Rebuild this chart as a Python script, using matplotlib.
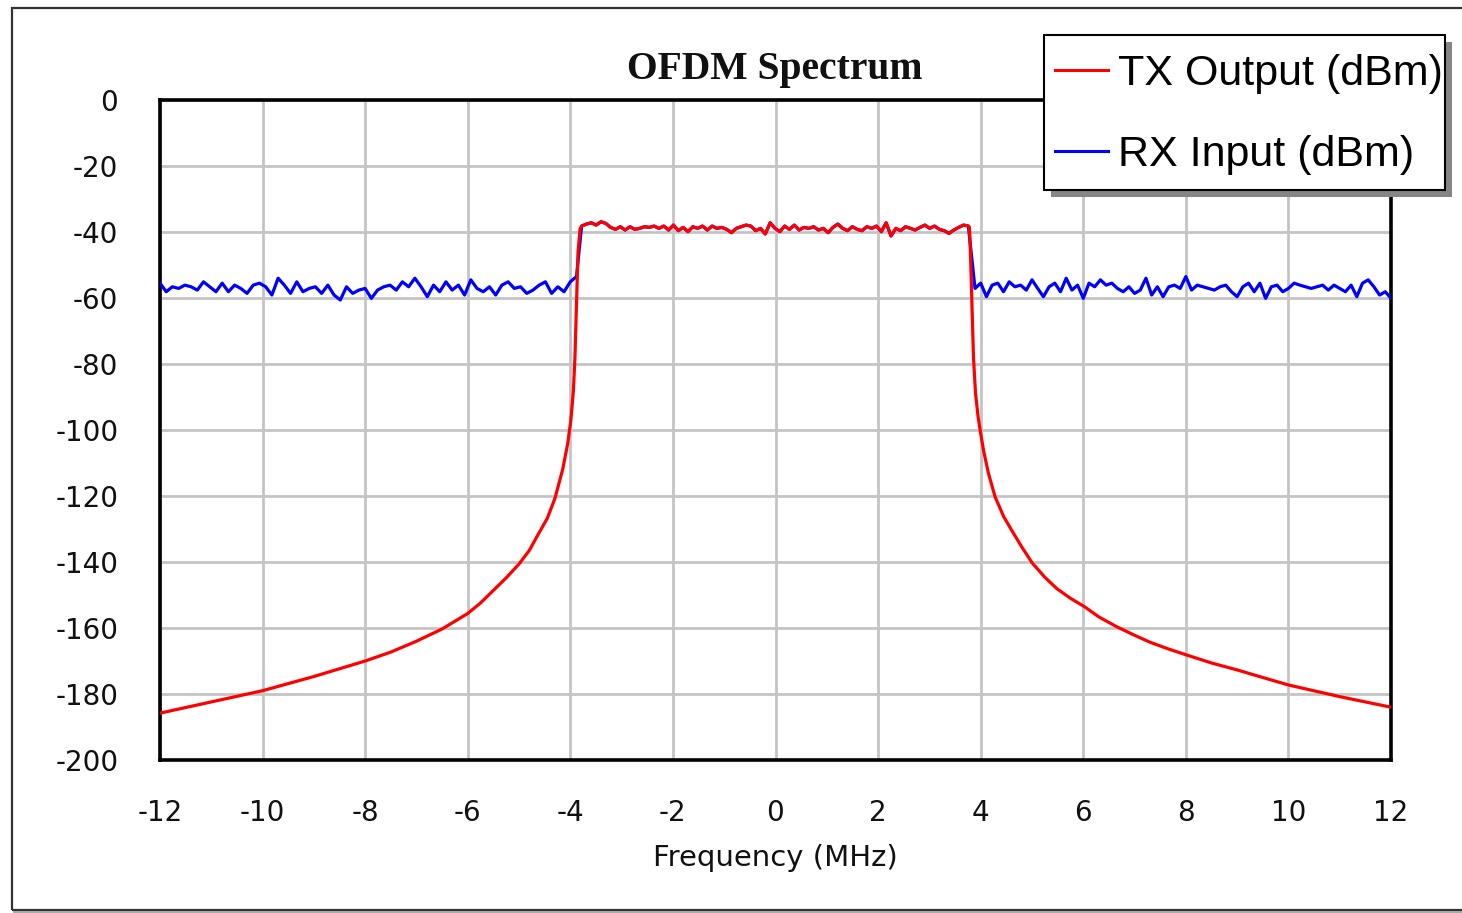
import numpy as np
import matplotlib
matplotlib.use("Agg")
import matplotlib.pyplot as plt
from matplotlib.patches import Rectangle
from matplotlib.lines import Line2D

# ---------------- data ----------------
title = "OFDM Spectrum"
xlabel = "Frequency (MHz)"
series_names = ["TX Output (dBm)", "RX Input (dBm)"]
xticks = [-12, -10, -8, -6, -4, -2, 0, 2, 4, 6, 8, 10, 12]
yticks = [0, -20, -40, -60, -80, -100, -120, -140, -160, -180, -200]

# RX noise floor left of the band (-12 .. -3.88 MHz)
rx_left = [-55.5, -58.1, -56.6, -57.1, -56.1, -56.6, -57.6, -55.1, -56.6, -58.1, -55.5, -58.1,
           -56.1, -57.1, -58.6, -56.1, -55.5, -56.6, -59.1, -54.0, -56.1, -58.6, -55.1, -58.1,
           -57.1, -56.6, -58.6, -56.1, -59.1, -60.6, -56.6, -58.6, -57.6, -57.1, -60.1, -57.6,
           -56.6, -56.1, -57.6, -55.1, -56.6, -54.0, -56.6, -59.6, -56.1, -58.1, -55.1, -57.6,
           -56.1, -59.1, -54.5, -57.1, -58.1, -56.6, -59.1, -56.1, -55.1, -57.1, -56.6, -58.6,
           -57.6, -56.1, -55.1, -58.6, -56.6, -58.1, -55.1, -53.5]
rx_left_span = (-12.0, -3.88)

# RX noise floor right of the band (3.89 .. 12 MHz)
rx_right = [-57.1, -55.5, -59.6, -56.1, -55.5, -58.1, -55.1, -56.6, -56.1, -57.6, -54.5, -57.1,
            -59.6, -56.6, -55.5, -58.1, -54.0, -57.6, -56.1, -60.1, -55.5, -56.6, -54.5, -56.1,
            -55.5, -57.1, -58.1, -56.6, -58.6, -57.6, -54.0, -59.1, -56.6, -59.6, -56.6, -56.1,
            -57.1, -53.5, -57.6, -56.1, -56.6, -57.1, -57.6, -56.6, -56.1, -58.1, -59.6, -56.6,
            -55.5, -58.1, -55.5, -60.1, -56.6, -56.1, -58.1, -57.1, -55.5, -56.1, -56.6, -57.1,
            -56.6, -56.1, -57.6, -56.1, -57.1, -58.1, -56.1, -59.6, -55.5, -54.5, -56.6, -59.1,
            -58.1, -60.1]
rx_right_span = (3.89, 12.0)

# In-band OFDM level (-3.78 .. 3.76 MHz)
tx_inband = [-38.2, -37.6, -37.2, -37.9, -36.9, -37.4, -38.6, -39.2, -38.4, -39.4, -38.4, -39.2,
             -38.9, -38.4, -38.6, -38.2, -38.9, -38.2, -39.4, -37.9, -39.6, -38.6, -39.9, -38.4,
             -38.9, -38.2, -39.4, -38.2, -38.9, -38.6, -39.2, -40.2, -38.9, -38.4, -37.9, -38.2,
             -39.6, -38.9, -40.6, -37.2, -38.9, -39.9, -38.2, -39.2, -37.9, -39.4, -38.6, -38.9,
             -38.4, -39.4, -38.9, -40.2, -38.6, -37.6, -38.9, -39.6, -38.4, -39.2, -39.6, -38.4,
             -38.9, -38.2, -39.9, -37.2, -41.2, -38.9, -39.6, -38.4, -38.9, -39.4, -38.6, -37.9,
             -38.9, -38.2, -39.2, -39.6, -40.4, -39.4, -38.6, -37.9, -38.2]
inband_span = (-3.78, 3.76)

# TX spectral skirts (frequency MHz, level dBm)
tx_left_f = [-12.0, -11.0, -10.0, -9.0, -8.0, -7.5, -7.0, -6.5, -6.0, -5.75, -5.5, -5.25, -5.0,
             -4.8, -4.64, -4.45, -4.3, -4.15, -4.05, -3.99, -3.94, -3.91, -3.88, -3.85, -3.81]
tx_left_db = [-185.8, -182.4, -179.0, -174.7, -170.0, -167.3, -164.0, -160.3, -155.6, -152.4, -148.6, -144.8, -140.6,
              -136.5, -132.0, -126.8, -120.7, -112.0, -104.0, -97.0, -88.0, -78.0, -62.0, -46.0, -39.0]
tx_right_f = [3.78, 3.80, 3.83, 3.86, 3.90, 3.95, 4.00, 4.06, 4.15, 4.28, 4.45, 4.64, 4.8, 5.0,
              5.25, 5.48, 5.75, 6.02, 6.3, 6.65, 7.0, 7.3, 7.65, 8.02, 8.5, 9.0, 9.5, 10.01, 11.0, 12.0]
tx_right_db = [-38.5, -46.0, -62.0, -78.0, -89.0, -96.0, -101.0, -106.5, -113.0, -120.2, -126.3, -131.3, -135.4, -140.2,
               -144.6, -148.0, -151.0, -153.5, -156.6, -159.6, -162.2, -164.3, -166.3, -168.2, -170.6, -172.7, -175.0, -177.3, -180.8, -184.0]

# ---------------- assemble series ----------------
f_left = np.linspace(*rx_left_span, len(rx_left))
f_right = np.linspace(*rx_right_span, len(rx_right))
f_band = np.linspace(*inband_span, len(tx_inband))

rx_f = np.concatenate([f_left, f_band, f_right])
rx_db = np.concatenate([rx_left, tx_inband, rx_right])

tx_f = np.concatenate([tx_left_f, f_band, tx_right_f])
tx_db = np.concatenate([tx_left_db, tx_inband, tx_right_db])

# ---------------- figure ----------------
plt.rcParams['axes.unicode_minus'] = False
W, H = 1462, 913
fig = plt.figure(figsize=(W / 100, H / 100), dpi=100)
fig.patch.set_facecolor("white")

def fx(px):
    return px / W

def fy(py):
    return 1 - py / H

ax = fig.add_axes([fx(160), fy(760), (1391 - 160) / W, (760 - 100) / H])
ax.set_xlim(-12, 12)
ax.set_ylim(-200, 0)
ax.set_xticks(xticks)
ax.set_xticklabels([str(t) for t in xticks])
ax.set_yticks(yticks)
ax.set_yticklabels([str(t) for t in yticks])
ax.grid(True, color="#c4c4c4", linewidth=2.0)
ax.set_axisbelow(True)
for s in ax.spines.values():
    s.set_linewidth(2.6)
    s.set_color("black")
ax.tick_params(length=0, labelsize=20, colors="#111111")
ax.tick_params(axis='x', pad=28)
ax.tick_params(axis='y', pad=30)
for lab in ax.get_xticklabels() + ax.get_yticklabels():
    lab.set_family("DejaVu Sans")

l_rx, = ax.plot(rx_f, rx_db, color="#0000ff", linewidth=2.3, label=series_names[1], zorder=3)
l_tx, = ax.plot(tx_f, tx_db, color="#ff0000", linewidth=2.3, label=series_names[0], zorder=4)

ax.set_xlabel(xlabel, fontsize=21, family="DejaVu Sans", color="#111111", va="center")
ax.xaxis.set_label_coords(0.5, -(858 - 760) / 660)

fig.text(fx(775), fy(69), title, ha="center", va="center",
         fontsize=28.5, fontweight="bold", family="Liberation Serif", color="#111111")

# outer frame
fig.add_artist(Rectangle((fx(12), fy(910)), (1480 - 12) / W, (910 - 8) / H,
                         transform=fig.transFigure, fill=False, ec="#333333", lw=1.6,
                         clip_on=False))
fig.add_artist(Line2D([fx(14), fx(1470)], [fy(912), fy(912)], transform=fig.transFigure,
                      color="#9a9a9a", lw=1.2))

# legend box with drop shadow
fig.add_artist(Rectangle((fx(1051), fy(197)), (1452 - 1051) / W, (197 - 42) / H,
                         transform=fig.transFigure, fc="#858585", ec="none", zorder=10))
fig.add_artist(Rectangle((fx(1044), fy(190)), (1445 - 1044) / W, (190 - 35) / H,
                         transform=fig.transFigure, fc="white", ec="black", lw=1.5, zorder=11))

leg = fig.legend(handles=[l_tx, l_rx], labels=series_names, loc="upper left",
                 bbox_to_anchor=(fx(1036), fy(35)), bbox_transform=fig.transFigure,
                 prop={"family": "Liberation Sans", "size": 31},
                 handlelength=1.23, handletextpad=0.23, labelspacing=0.95,
                 borderpad=0.44, borderaxespad=0.0, frameon=False)
leg.set_zorder(12)
for h in leg.legend_handles:
    h.set_linewidth(2.2)

fig.savefig("out.png", dpi=100, facecolor="white")
